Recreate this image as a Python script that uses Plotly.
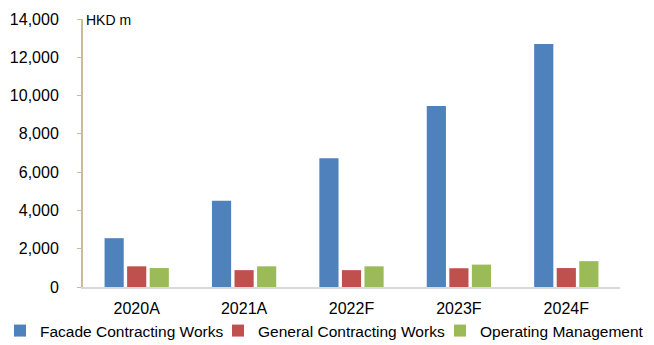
import plotly.graph_objects as go

categories = ["2020A", "2021A", "2022F", "2023F", "2024F"]
facade = [2550, 4500, 6730, 9450, 12700]
general = [1080, 880, 880, 980, 990]
operating = [990, 1080, 1080, 1170, 1350]
series_names = ["Facade Contracting Works", "General Contracting Works", "Operating Management"]
colors = ["#4f81bd", "#c0504d", "#9bbb59"]
legend_ids = ["legend", "legend2", "legend3"]
legend_left_px = [0, 218, 440]

fig = go.Figure()
for name, vals, c, lg in zip(series_names, [facade, general, operating], colors, legend_ids):
    fig.add_trace(go.Bar(x=categories, y=vals, name=name, legend=lg,
                         marker=dict(color=c, line=dict(width=0))))

font = "Liberation Sans, Arial, sans-serif"
W, H = 654, 345
legend_layout = {}
for lg, lx in zip(legend_ids, legend_left_px):
    legend_layout[lg] = dict(orientation="h", x=lx / W, xanchor="left", xref="container",
                             y=(H - 331) / H, yanchor="middle", yref="container",
                             font=dict(size=15.5), itemwidth=30,
                             bgcolor="rgba(0,0,0,0)")

fig.update_layout(
    width=W, height=H,
    margin=dict(l=83, r=34, t=19, b=58, autoexpand=False),
    paper_bgcolor="white", plot_bgcolor="white",
    barmode="group", bargap=0.37, bargroupgap=0.15,
    font=dict(family=font, size=16, color="#000000"),
    showlegend=True,
    xaxis=dict(showgrid=False, showline=True, linecolor="#d9d9d9", linewidth=2,
               ticks="", tickfont=dict(size=16), automargin=False,
               ticklabelstandoff=6),
    yaxis=dict(range=[0, 14000], dtick=2000, tickformat=",d", showgrid=False,
               showline=True, linecolor="#c9bd95", linewidth=2,
               ticks="outside", ticklen=4, tickcolor="#c9bd95", tickwidth=1,
               tickfont=dict(size=16), zeroline=False, automargin=False,
               ticklabelstandoff=15),
    annotations=[dict(text="HKD m", x=0, xref="paper", xanchor="left", xshift=1,
                      y=1, yref="paper", yanchor="middle", yshift=-1, showarrow=False,
                      font=dict(size=14))],
    **legend_layout,
)
fig.write_html("out.html")
